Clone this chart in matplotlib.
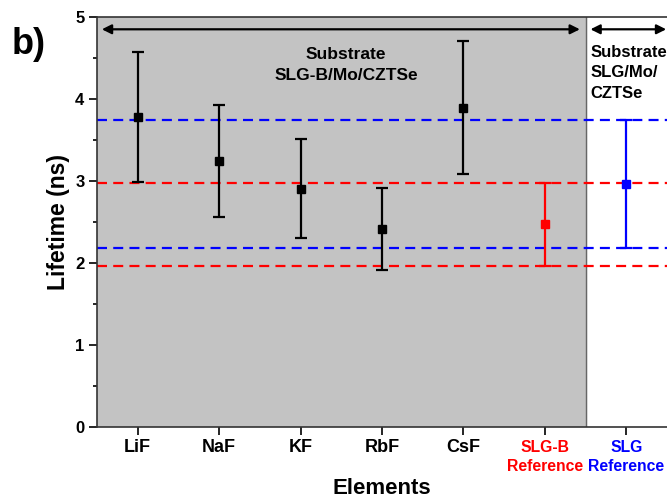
import matplotlib
matplotlib.use("Agg")
import matplotlib.pyplot as plt

plt.rcParams['font.family'] = ['Liberation Sans', 'DejaVu Sans']
plt.rcParams['font.weight'] = 'bold'

# ----------------------------- data ----------------------------------------
categories = ["LiF", "NaF", "KF", "RbF", "CsF", "SLG-B\nReference", "SLG\nReference"]
lifetime   = [3.78, 3.24, 2.90, 2.41, 3.89, 2.47, 2.96]
err_top    = [4.57, 3.93, 3.51, 2.92, 4.71, 2.98, 3.74]
err_bottom = [2.99, 2.56, 2.30, 1.91, 3.08, 1.96, 2.18]
point_colors = ["black", "black", "black", "black", "black", "red", "blue"]

red_band  = [2.98, 1.96]     # SLG-B reference range
blue_band = [3.74, 2.18]     # SLG reference range

# ----------------------------- plot ----------------------------------------
fig = plt.figure(figsize=(6.67, 5.0), dpi=100)
ax = fig.add_axes([0.1454, 0.146, 0.8546, 0.820])

x = list(range(1, len(categories) + 1))
ax.axvspan(0.5, 6.5, color="#c3c3c3", zorder=0)
ax.axvline(6.5, color="#666666", lw=1.0, zorder=1)

for yv in red_band:
    ax.axhline(yv, color="red", lw=1.6, dashes=(4.5, 2.8), zorder=2)
for yv in blue_band:
    ax.axhline(yv, color="blue", lw=1.6, dashes=(4.5, 2.8), zorder=2)

for xi, v, hi, lo, c in zip(x, lifetime, err_top, err_bottom, point_colors):
    ax.errorbar(xi, v, yerr=[[v - lo], [hi - v]], fmt="s", color=c,
                ms=5.5, lw=1.6, capsize=4, capthick=1.6, zorder=3)

# arrows + substrate notes
ax.annotate("", xy=(0.56, 4.85), xytext=(6.43, 4.85),
            arrowprops=dict(arrowstyle="<|-|>", color="black", lw=1.6,
                            mutation_scale=14, shrinkA=0, shrinkB=0))
ax.annotate("", xy=(6.56, 4.85), xytext=(7.49, 4.85),
            arrowprops=dict(arrowstyle="<|-|>", color="black", lw=1.6,
                            mutation_scale=14, shrinkA=0, shrinkB=0))
ax.text(3.56, 4.41, "Substrate\nSLG-B/Mo/CZTSe", ha="center", va="center",
        fontsize=12.5, fontweight="bold", linespacing=1.5)
ax.text(6.56, 4.32, "Substrate\nSLG/Mo/\nCZTSe", ha="left", va="center",
        fontsize=12, fontweight="bold", linespacing=1.45)

ax.set_xlim(0.5, 7.5)
ax.set_ylim(0, 5)
ax.set_xticks(x)
ax.set_xticklabels(categories)
ax.set_yticks([0, 1, 2, 3, 4, 5])
ax.set_yticks([0.5, 1.5, 2.5, 3.5, 4.5], minor=True)
ax.tick_params(axis="both", which="major", length=5.5, width=1.2,
               labelsize=12, direction="out")
ax.tick_params(axis="x", which="major", labelsize=13)
ax.tick_params(axis="y", which="minor", length=3, width=1.2, direction="out")
for lbl, tk, c in zip(ax.get_xticklabels(), ax.xaxis.get_major_ticks(), point_colors):
    lbl.set_color(c)
    lbl.set_fontweight("bold")
    tk.tick1line.set_color(c)
for i, lbl in enumerate(ax.get_xticklabels()):
    if i >= 5:
        lbl.set_fontsize(11.3)
        lbl.set_linespacing(1.35)
for lbl in ax.get_yticklabels():
    lbl.set_fontweight("bold")

ax.spines["right"].set_visible(False)
for s in ["left", "bottom", "top"]:
    ax.spines[s].set_linewidth(1.2)
    ax.spines[s].set_color("#333333")

ax.set_xlabel("Elements", fontsize=16, fontweight="bold", labelpad=3)
ax.set_ylabel("Lifetime (ns)", fontsize=16.5, fontweight="bold", labelpad=4)
fig.text(0.018, 0.91, "b)", fontsize=26, fontweight="bold", ha="left", va="center")

fig.savefig("out.png", dpi=100)
